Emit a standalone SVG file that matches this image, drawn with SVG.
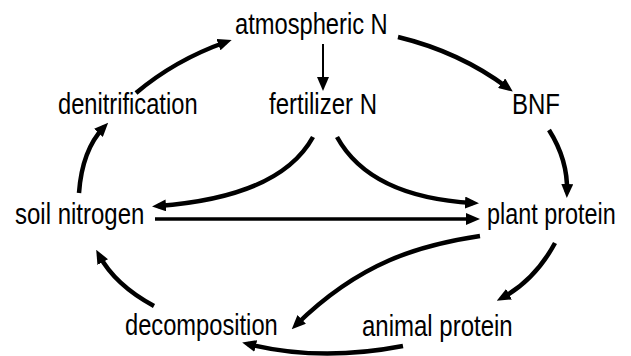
<svg xmlns="http://www.w3.org/2000/svg" width="631" height="356" viewBox="0 0 631 356">
<style>
.lbl{font-family:"Liberation Sans",Arial,sans-serif;font-size:30px;fill:#000}
.c{fill:none;stroke:#000;stroke-width:4.5;marker-end:url(#ah)}
.thin{stroke-width:2}
.mid{stroke-width:3.5}
</style>
<defs>
<marker id="ah" markerUnits="userSpaceOnUse" markerWidth="14" markerHeight="12" viewBox="0 0 14 12" refX="8" refY="6" orient="auto">
<path d="M0,0 L14,6 L0,12 z" fill="#000"/>
</marker>
</defs>
<rect width="631" height="356" fill="#fff"/>
<g id="connectors">
<path class="c" d="M136,93 Q175,60 226,42"/>
<path class="c thin" d="M323,44 L323,85"/>
<path class="c" d="M398,37 Q460,52 508,88"/>
<path class="c" d="M549,130 Q568,160 567,192"/>
<path class="c" d="M313,137 Q280,197 158,206"/>
<path class="c" d="M337,137 Q370,197 473,203"/>
<path class="c mid" d="M155,219 L474,219"/>
<path class="c" d="M480,236 C420,245 360,262 296,325"/>
<path class="c" d="M555,243 Q535,280 502,298"/>
<path class="c" d="M403,346 Q320,362 248,344"/>
<path class="c" d="M154,306 Q115,285 99,255"/>
<path class="c" d="M79,193 Q82,150 104,127"/>
</g>
<g id="atmospheric-n" transform="translate(235,34) scale(0.79,1)"><text class="lbl">atmospheric N</text></g>
<g id="denitrification" transform="translate(58,114) scale(0.79,1)"><text class="lbl">denitrification</text></g>
<g id="fertilizer-n" transform="translate(269,114) scale(0.8,1)"><text class="lbl">fertilizer N</text></g>
<g id="bnf" transform="translate(512,114) scale(0.8,1)"><text class="lbl">BNF</text></g>
<g id="soil-nitrogen" transform="translate(15,224) scale(0.8,1)"><text class="lbl">soil nitrogen</text></g>
<g id="plant-protein" transform="translate(487,224) scale(0.78,1)"><text class="lbl">plant protein</text></g>
<g id="decomposition" transform="translate(125,335) scale(0.79,1)"><text class="lbl">decomposition</text></g>
<g id="animal-protein" transform="translate(362,336) scale(0.8,1)"><text class="lbl">animal protein</text></g>
</svg>
